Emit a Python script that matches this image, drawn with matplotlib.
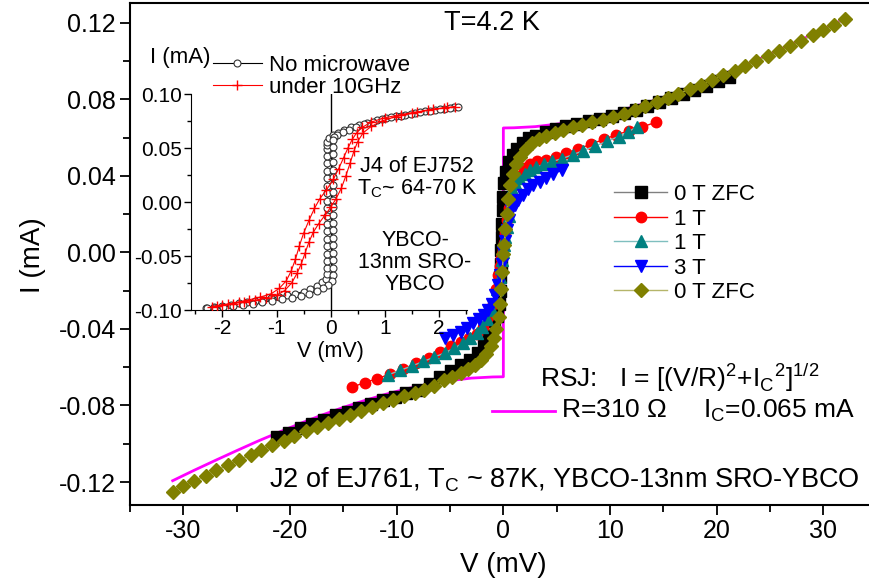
# -------------------------------
# 1. モジュールとフォントの設定
# -------------------------------
import matplotlib
matplotlib.use("Agg")
import matplotlib.pyplot as plt
from matplotlib.lines import Line2D

plt.rcParams['font.family'] = ['Liberation Sans', 'DejaVu Sans']
plt.rcParams['mathtext.fontset'] = 'custom'
plt.rcParams['mathtext.rm'] = 'Liberation Sans'
plt.rcParams['axes.unicode_minus'] = False

# -------------------------------
# 2. データ
# -------------------------------

# 0 T ZFC（黒い四角）
v_zfc1 = [-21.2, -20.1, -19.0, -17.9, -16.8, -15.7, -14.6, -13.5, -12.4, -11.3, -10.2, -9.1, -8.0, -6.9,
          -5.9, -4.9, -4.0, -3.1, -2.4, -1.8, -1.3, -0.9, -0.6, -0.45, -0.35, -0.3, -0.25, -0.2, -0.15,
          -0.1, -0.05, 0.0, 0.1, 0.25, 0.5, 0.9, 1.3, 1.8, 2.4, 3.1, 4.0, 4.9, 5.9, 6.9, 8.0, 9.1, 10.2,
          11.3, 12.4, 13.5, 14.6, 15.7, 16.8, 17.9, 19.0, 20.1, 21.2]
i_zfc1 = [-0.0966, -0.0942, -0.0918, -0.0896, -0.0874, -0.0852, -0.0832, -0.0812, -0.0792, -0.0773,
          -0.0754, -0.0736, -0.0717, -0.0690, -0.0650, -0.0620, -0.0590, -0.0560, -0.0525, -0.0490,
          -0.0435, -0.0360, -0.0330, -0.0270, -0.0200, -0.0130, -0.0060, 0.0010, 0.0080, 0.0150,
          0.0220, 0.0290, 0.0360, 0.0420, 0.0470, 0.0510, 0.0540, 0.0570, 0.0595, 0.0610, 0.0630,
          0.0645, 0.0660, 0.0672, 0.0685, 0.0698, 0.0712, 0.0728, 0.0745, 0.0765, 0.0785, 0.0805,
          0.0826, 0.0848, 0.0870, 0.0893, 0.0916]

# 1 T（赤い丸）
v_1t_a = [-14.2, -13.0, -11.8, -10.6, -9.4, -8.2, -7.0, -5.9, -4.9, -4.0, -3.2, -2.5, -1.9, -1.4, -1.0,
          -0.7, -0.5, -0.35, -0.2, -0.1, 0.0, 0.1, 0.2, 0.35, 0.5, 0.7, 1.0, 1.4, 1.9, 2.5, 3.2, 4.0,
          4.9, 5.9, 7.0, 8.2, 9.4, 10.6, 11.8, 13.0, 14.3]
i_1t_a = [-0.0705, -0.0680, -0.0660, -0.0635, -0.0610, -0.0580, -0.0550, -0.0520, -0.0490, -0.0470,
          -0.0450, -0.0425, -0.0390, -0.0340, -0.0270, -0.0190, -0.0120, -0.0070, -0.0030, -0.0010,
          0.0010, 0.0050, 0.0100, 0.0170, 0.0230, 0.0290, 0.0350, 0.0400, 0.0440, 0.0460, 0.0475,
          0.0485, 0.0500, 0.0520, 0.0540, 0.0565, 0.0590, 0.0615, 0.0635, 0.0655, 0.0680]

# 1 T（緑の三角）
v_1t_b = [-10.8, -9.7, -8.6, -7.5, -6.5, -5.5, -4.6, -3.8, -3.1, -2.5, -2.0, -1.5, -1.1, -0.8, -0.55,
          -0.35, -0.2, -0.1, 0.0, 0.1, 0.2, 0.35, 0.55, 0.8, 1.1, 1.5, 2.0, 2.5, 3.1, 3.8, 4.6, 5.5,
          6.5, 7.5, 8.6, 9.7, 10.8, 11.7, 12.5]
i_1t_b = [-0.0640, -0.0617, -0.0594, -0.0570, -0.0548, -0.0525, -0.0500, -0.0475, -0.0450, -0.0420,
          -0.0390, -0.0350, -0.0300, -0.0250, -0.0190, -0.0130, -0.0080, -0.0040, 0.0000, 0.0040,
          0.0080, 0.0130, 0.0190, 0.0330, 0.0360, 0.0390, 0.0410, 0.0430, 0.0445, 0.0460, 0.0475,
          0.0490, 0.0510, 0.0532, 0.0556, 0.0580, 0.0605, 0.0630, 0.0655]

# 3 T（青い下向き三角）
v_3t = [-5.5, -4.7, -4.0, -3.4, -2.8, -2.3, -1.8, -1.4, -1.05, -0.75, -0.5, -0.3, -0.15, 0.0, 0.15,
        0.3, 0.5, 0.75, 1.05, 1.4, 1.8, 2.3, 2.8, 3.4, 4.0, 4.7, 5.5]
i_3t = [-0.0445, -0.0430, -0.0415, -0.0395, -0.0370, -0.0350, -0.0325, -0.0300, -0.0270, -0.0225,
        -0.0170, -0.0120, -0.0060, 0.0000, 0.0060, 0.0116, 0.0170, 0.0220, 0.0250, 0.0275, 0.0300,
        0.0330, 0.0350, 0.0370, 0.0390, 0.0410, 0.0430]

# 0 T ZFC（オリーブのひし形）
v_zfc2 = [-31.0, -30.0, -29.0, -27.9, -26.9, -25.8, -24.8, -23.7, -22.7, -21.7, -20.6, -19.6, -18.5,
          -17.5, -16.4, -15.4, -14.4, -13.3, -12.3, -11.3, -10.3, -9.3, -8.3, -7.4, -6.5, -5.6, -4.8,
          -4.0, -3.3, -2.7, -2.1, -1.6, -1.2, -0.9, -0.65, -0.45, -0.3, -0.2, -0.1, 0.0, 0.1, 0.2,
          0.3, 0.45, 0.65, 0.9, 1.2, 1.6, 2.1, 2.7, 3.3, 4.0, 4.8, 5.6, 6.5, 7.4, 8.3, 9.3, 10.3,
          11.3, 12.3, 13.3, 14.4, 15.4, 16.4, 17.5, 18.5, 19.6, 20.6, 21.7, 22.7, 23.7, 24.8, 25.8,
          26.9, 27.9, 29.0, 30.0, 31.0, 32.0]
i_zfc2 = [-0.1250, -0.1222, -0.1195, -0.1166, -0.1139, -0.1111, -0.1085, -0.1058, -0.1033, -0.1009,
          -0.0983, -0.0960, -0.0935, -0.0913, -0.0890, -0.0869, -0.0849, -0.0827, -0.0808, -0.0789,
          -0.0770, -0.0752, -0.0734, -0.0717, -0.0698, -0.0665, -0.0650, -0.0630, -0.0610, -0.0590,
          -0.0560, -0.0530, -0.0490, -0.0450, -0.0400, -0.0340, -0.0270, -0.0190, -0.0100, -0.0010,
          0.0040, 0.0120, 0.0200, 0.0280, 0.0350, 0.0410, 0.0460, 0.0500, 0.0540, 0.0570, 0.0590,
          0.0610, 0.0625, 0.0640, 0.0655, 0.0668, 0.0680, 0.0693, 0.0707, 0.0725, 0.0745, 0.0765,
          0.0787, 0.0808, 0.0830, 0.0852, 0.0875, 0.0900, 0.0925, 0.0950, 0.0975, 0.1000, 0.1025,
          0.1050, 0.1080, 0.1105, 0.1135, 0.1160, 0.1190, 0.1218]

# RSJモデル（マゼンタの線）
v_rsj = [-31, -29, -27, -25, -23, -21, -19, -17, -15, -13, -11, -9, -7, -5, -3, -1, 0, 0,
         1, 3, 5, 7, 9, 11, 13, 15, 17, 19, 21, 23, 25, 27, 29, 31, 32]
i_rsj = [-0.1193, -0.1139, -0.1087, -0.1036, -0.0986, -0.0939, -0.0893, -0.0850, -0.0810, -0.0774,
         -0.0741, -0.0712, -0.0688, -0.0670, -0.0657, -0.0651, -0.0650, 0.0650,
         0.0651, 0.0657, 0.0670, 0.0688, 0.0712, 0.0741, 0.0774, 0.0810, 0.0850, 0.0893, 0.0939,
         0.0986, 0.1036, 0.1087, 0.1139, 0.1193, 0.1220]

# 挿入図：マイクロ波なし（黒い白抜き丸）
v_nomw = [-2.30, -2.15, -2.00, -1.85, -1.70, -1.55, -1.40, -1.25, -1.10, -0.95, -0.80, -0.65, -0.50,
          -0.38, -0.26, -0.16, -0.09, -0.06, -0.06, -0.06, -0.06, -0.06, -0.06, -0.06, -0.06, -0.06,
          -0.06, -0.06, -0.06, -0.06, -0.06, -0.06, -0.06, -0.06, -0.06, -0.06, -0.06, -0.03, 0.05,
          0.14, 0.25, 0.38, 0.52, 0.68, 0.85, 1.02, 1.20, 1.38, 1.56, 1.74, 1.92, 2.10, 2.28,
          2.35, 2.20, 2.02, 1.84, 1.66, 1.48, 1.30, 1.12, 0.95, 0.78, 0.62, 0.47, 0.34, 0.22, 0.12,
          0.06, 0.04, 0.04, 0.04, 0.04, 0.04, 0.04, 0.04, 0.04, 0.04, 0.04, 0.04, 0.04, 0.04,
          0.04, 0.04, 0.04, 0.04, 0.04, 0.04, 0.02, -0.05, -0.14, -0.26, -0.40, -0.55, -0.72,
          -0.90, -1.08, -1.26, -1.44, -1.62, -1.80, -1.98, -2.16, -2.28]
i_nomw = [-0.0980, -0.0970, -0.0960, -0.0950, -0.0935, -0.0925, -0.0915, -0.0905, -0.0890, -0.0880,
          -0.0865, -0.0850, -0.0830, -0.0805, -0.0775, -0.0745, -0.0710, -0.0670, -0.0610, -0.0550,
          -0.0480, -0.0410, -0.0340, -0.0270, -0.0200, -0.0130, -0.0060, 0.0010, 0.0080, 0.0150,
          0.0220, 0.0290, 0.0360, 0.0430, 0.0490, 0.0530, 0.0560, 0.0595, 0.0620, 0.0640, 0.0665,
          0.0690, 0.0710, 0.0735, 0.0755, 0.0775, 0.0795, 0.0810, 0.0825, 0.0840, 0.0855, 0.0865,
          0.0875, 0.0880, 0.0870, 0.0860, 0.0845, 0.0830, 0.0815, 0.0800, 0.0785, 0.0765, 0.0745,
          0.0720, 0.0695, 0.0670, 0.0645, 0.0620, 0.0600, 0.0570, 0.0510, 0.0440, 0.0370, 0.0300,
          0.0230, 0.0160, 0.0090, 0.0020, -0.0050, -0.0120, -0.0190, -0.0260, -0.0330, -0.0400,
          -0.0470, -0.0540, -0.0610, -0.0680, -0.0730, -0.0770, -0.0800, -0.0825, -0.0850, -0.0870,
          -0.0885, -0.0900, -0.0915, -0.0925, -0.0940, -0.0950, -0.0960, -0.0970, -0.0980, -0.0985]

# 挿入図：10GHz照射下（赤い十字）
v_mw = [-2.20, -2.00, -1.80, -1.60, -1.40, -1.20, -1.00, -0.85, -0.72, -0.62, -0.54, -0.47, -0.40,
        -0.32, -0.22, -0.10, 0.00, 0.10, 0.20, 0.28, 0.36, 0.43, 0.50, 0.60, 0.75, 0.95, 1.20,
        1.50, 1.80, 2.10, 2.30, 2.15, 1.90, 1.60, 1.30, 1.00, 0.75, 0.58, 0.48, 0.40, 0.32, 0.24,
        0.15, 0.05, -0.08, -0.20, -0.30, -0.40, -0.50, -0.58, -0.65, -0.73, -0.82, -0.95, -1.10,
        -1.30, -1.50, -1.70, -1.90, -2.10]
i_mw = [-0.0970, -0.0955, -0.0940, -0.0925, -0.0910, -0.0890, -0.0865, -0.0820, -0.0750, -0.0660,
        -0.0570, -0.0470, -0.0370, -0.0280, -0.0200, -0.0120, -0.0050, 0.0030, 0.0130, 0.0240,
        0.0360, 0.0470, 0.0560, 0.0640, 0.0700, 0.0750, 0.0790, 0.0820, 0.0850, 0.0870, 0.0880,
        0.0875, 0.0860, 0.0835, 0.0810, 0.0780, 0.0740, 0.0690, 0.0640, 0.0580, 0.0500, 0.0410,
        0.0310, 0.0210, 0.0110, 0.0030, -0.0060, -0.0170, -0.0290, -0.0410, -0.0530, -0.0640,
        -0.0730, -0.0800, -0.0850, -0.0880, -0.0905, -0.0925, -0.0945, -0.0960]

# 目盛り
x_ticks = [-30, -20, -10, 0, 10, 20, 30]
y_ticks = [-0.12, -0.08, -0.04, 0.00, 0.04, 0.08, 0.12]
inset_x_ticks = [-2, -1, 0, 1, 2]
inset_y_ticks = [-0.10, -0.05, 0.00, 0.05, 0.10]

W, H = 869, 586


def fx(x):  # ピクセル → 図の座標（横）
    return x / W


def fy(y):  # ピクセル → 図の座標（縦、上から）
    return 1 - y / H


# -------------------------------
# 3. メインのグラフ
# -------------------------------
fig = plt.figure(figsize=(W / 100, H / 100), dpi=100)
ax = fig.add_axes([fx(130), fy(505), (876.7 - 130) / W, (505 - 3) / H])

ax.plot(v_rsj, i_rsj, color='#ff00ff', lw=2, zorder=1)
ax.plot(v_zfc1, i_zfc1, color='#808080', lw=1, marker='s', ms=8, mfc='black', mec='black',
        label='0 T ZFC', zorder=3)
ax.plot(v_1t_a, i_1t_a, color='red', lw=1, marker='o', ms=7.5, mfc='red', mec='red',
        label='1 T', zorder=3)
ax.plot(v_1t_b, i_1t_b, color='#7fbfbf', lw=1, marker='^', ms=8, mfc='#008080', mec='#008080',
        label='1 T', zorder=3)
ax.plot(v_3t, i_3t, color='blue', lw=1, marker='v', ms=8, mfc='blue', mec='blue',
        label='3 T', zorder=3)
ax.plot(v_zfc2, i_zfc2, color='#b5b56a', lw=1, marker='D', ms=7.2, mfc='#808000', mec='#808000',
        label='0 T ZFC', zorder=4)

ax.set_xlim(-35, 35)
ax.set_ylim(-0.132, 0.1303)
ax.set_xticks(x_ticks)
ax.set_xticks([-35, -25, -15, -5, 5, 15, 25, 35], minor=True)
ax.set_yticks(y_ticks)
ax.set_yticks([-0.10, -0.06, -0.02, 0.02, 0.06, 0.10], minor=True)
ax.set_yticklabels([f"{t:.2f}" for t in y_ticks])
ax.tick_params(which='major', direction='out', length=7, width=1.3, labelsize=18, pad=3)
ax.tick_params(which='minor', direction='out', length=5, width=1.3)
for s in ax.spines.values():
    s.set_linewidth(1.5)

fig.text(fx(33), fy(255), "I (mA)", fontsize=20, rotation=90, ha='center', va='center')
fig.text(fx(503), fy(565), "V (mV)", fontsize=20, ha='center', va='center')

# 凡例
ax.legend(loc='upper left', bbox_to_anchor=(fx(614), fy(184)), bbox_transform=fig.transFigure,
          frameon=False, fontsize=16, numpoints=1, handlelength=2.4, handletextpad=0.3,
          labelspacing=0.16, borderpad=0, borderaxespad=0)

# 注釈テキスト
fig.text(fx(492), fy(23), "T=4.2 K", fontsize=19.5, ha='center', va='center')
fig.text(fx(540), fy(378), r"RSJ:   I = [(V/R)$^\mathregular{2}$+I$_\mathregular{C}$$^\mathregular{2}$]$^\mathregular{1/2}$",
         fontsize=19, ha='left', va='center')
fig.add_artist(Line2D([fx(492), fx(555)], [fy(411), fy(411)], color='#ff00ff', lw=2))
fig.text(fx(561), fy(411), r"R=310 Ω     I$_\mathregular{C}$=0.065 mA", fontsize=19, ha='left', va='center')
fig.text(fx(269), fy(480), r"J2 of EJ761, T$_\mathregular{C}$ ~ 87K, YBCO-13nm SRO-YBCO",
         fontsize=19.5, ha='left', va='center')

# -------------------------------
# 4. 挿入図
# -------------------------------
axi = fig.add_axes([fx(191), fy(310), (467 - 191) / W, (310 - 94) / H])
axi.set_facecolor('none')
axi.axvline(0, color='black', lw=1, zorder=1)
axi.plot(v_nomw, i_nomw, color='black', lw=0.8, marker='o', ms=5, mfc='white', mec='#333333',
         mew=0.8, label='No microwave', zorder=2)
axi.plot(v_mw, i_mw, color='red', lw=0.8, marker='+', ms=7, mew=1, label='under 10GHz', zorder=3)

axi.set_xlim(-2.58, 2.52)
axi.set_ylim(-0.10, 0.10)
axi.set_xticks(inset_x_ticks)
axi.set_xticks([-2.5, -1.5, -0.5, 0.5, 1.5, 2.5], minor=True)
axi.set_yticks(inset_y_ticks)
axi.set_yticks([-0.075, -0.025, 0.025, 0.075], minor=True)
axi.set_yticklabels([f"{t:.2f}" for t in inset_y_ticks])
axi.spines['top'].set_visible(False)
axi.spines['right'].set_visible(False)
axi.tick_params(which='major', direction='out', length=5, width=1, labelsize=15, pad=1.5)
axi.tick_params(which='minor', direction='out', length=3, width=1)

fig.text(fx(210), fy(57), "I (mA)", fontsize=16, ha='right', va='center')
fig.text(fx(330), fy(351), "V (mV)", fontsize=15.5, ha='center', va='center')

axi.legend(loc='upper left', bbox_to_anchor=(fx(213), fy(55)), bbox_transform=fig.transFigure,
           frameon=False, fontsize=16, numpoints=1, handlelength=2.2, handletextpad=0.3,
           labelspacing=0.05, borderpad=0, borderaxespad=0)

fig.text(fx(417), fy(167), "J4 of EJ752", fontsize=15.5, ha='center', va='center')
fig.text(fx(417), fy(189), r"T$_\mathregular{C}$~ 64-70 K", fontsize=15.5, ha='center', va='center')
fig.text(fx(415), fy(240), "YBCO-", fontsize=15.5, ha='center', va='center')
fig.text(fx(415), fy(262), "13nm SRO-", fontsize=15.5, ha='center', va='center')
fig.text(fx(415), fy(284), "YBCO", fontsize=15.5, ha='center', va='center')

fig.savefig("out.png", dpi=100)
